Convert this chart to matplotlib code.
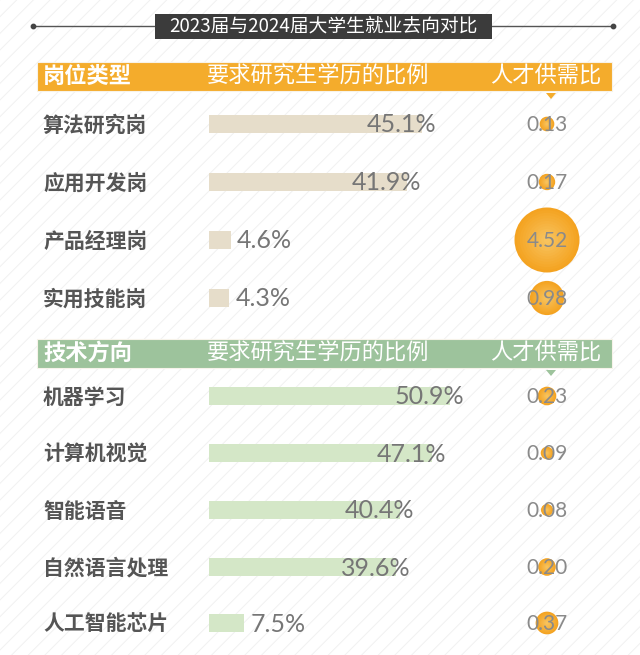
import numpy as np
import matplotlib
matplotlib.use("Agg")
import matplotlib.pyplot as plt
from matplotlib.patches import Rectangle, Polygon
from matplotlib.colors import to_rgb

plt.rcParams['font.family'] = ['Noto Sans CJK SC', 'DejaVu Sans']
plt.rcParams['hatch.linewidth'] = 0.7

# data
title = "2023届与2024届大学生就业去向对比"
head1 = ["岗位类型", "要求研究生学历的比例", "人才供需比"]
head2 = ["技术方向", "要求研究生学历的比例", "人才供需比"]

jobs = ["算法研究岗", "应用开发岗", "产品经理岗", "实用技能岗"]
jobs_pct = [45.1, 41.9, 4.6, 4.3]
jobs_ratio = [0.13, 0.17, 4.52, 0.98]

tech = ["机器学习", "计算机视觉", "智能语音", "自然语言处理", "人工智能芯片"]
tech_pct = [50.9, 47.1, 40.4, 39.6, 7.5]
tech_ratio = [0.23, 0.09, 0.08, 0.20, 0.37]

# layout (pixel coords)
W, H = 640, 655
px_per_pct = 4.73
bar_x0 = 209
ratio_x = 547
orange = '#F4AC2C'
green = '#9DC39C'
beige_bar = '#E6DDCA'
green_bar = '#D4E7C7'
num_font = ['Lato', 'DejaVu Sans']

fig = plt.figure(figsize=(6.4, 6.55), dpi=100)
ax = fig.add_axes([0, 0, 1, 1])
ax.set_xlim(0, W)
ax.set_ylim(H, 0)
ax.axis('off')

# striped background
ax.add_patch(Rectangle((0, 0), W, H, facecolor='white', edgecolor='#f1f1f1',
                       hatch='//', lw=0, zorder=0))

# title
ax.plot([33, 613], [26, 26], color='#555555', lw=1, zorder=1)
ax.scatter([33, 613], [26, 26], s=10, color='#444444', zorder=2)
ax.add_patch(Rectangle((155, 14), 337, 25, facecolor='#3b3b3b', lw=0, zorder=2))
ax.text(323.5, 26.5, title, color='white', fontsize=13.5, ha='center', va='center', zorder=3)

edge_c = np.array(to_rgb('#F4A321'))
mid_c = np.array(to_rgb('#F8C664'))


def section(y_head, heads, color, labels, pcts, ratios, ys, bar_color):
    ax.add_patch(Rectangle((37, y_head - 14), 575, 29, facecolor=color,
                           edgecolor='#f7f3ea', lw=0.8, zorder=2))
    ax.text(43, y_head, heads[0], color='white', fontsize=16, fontweight='bold',
            ha='left', va='center', zorder=3)
    ax.text(207, y_head, heads[1], color='white', fontsize=16,
            ha='left', va='center', zorder=3)
    ax.text(546, y_head, heads[2], color='white', fontsize=16,
            ha='center', va='center', zorder=3)
    ax.add_patch(Polygon([[546, y_head + 17], [556, y_head + 17], [551, y_head + 23]],
                         closed=True, facecolor=color, lw=0, zorder=2))

    ax.barh(ys, [p * px_per_pct for p in pcts], left=bar_x0, height=18,
            color=bar_color, zorder=2)
    for lab, p, y in zip(labels, pcts, ys):
        ax.text(43, y + 1, lab, color='#555555', fontsize=15, fontweight='bold',
                ha='left', va='center', zorder=3)
        end = bar_x0 + p * px_per_pct
        if p > 20:
            ax.text(end + 14, y + 1, f"{p}%", color='#767676', fontsize=18,
                    family=num_font, ha='right', va='center', zorder=4)
        else:
            ax.text(end + 6, y + 1, f"{p}%", color='#767676', fontsize=18,
                    family=num_font, ha='left', va='center', zorder=4)

    # bubbles, diameter grows with ratio, soft radial shading
    d = 34.5 * np.array(ratios) ** 0.42
    s = (d * 0.72) ** 2
    for k in np.linspace(1, 0.1, 12):
        c = edge_c * k + mid_c * (1 - k)
        ax.scatter([ratio_x] * len(ys), ys, s=s * k ** 2, color=c, lw=0, zorder=3)
    for r, y in zip(ratios, ys):
        ax.text(ratio_x, y + 1, f"{r:.2f}", color='#8a8a8a', fontsize=15,
                family=num_font, ha='center', va='center', zorder=4)


section(76, head1, orange, jobs, jobs_pct, jobs_ratio, [124, 182, 240, 298], beige_bar)
section(353, head2, green, tech, tech_pct, tech_ratio, [396, 453, 510, 567, 623], green_bar)

fig.savefig("out.png", dpi=100)
